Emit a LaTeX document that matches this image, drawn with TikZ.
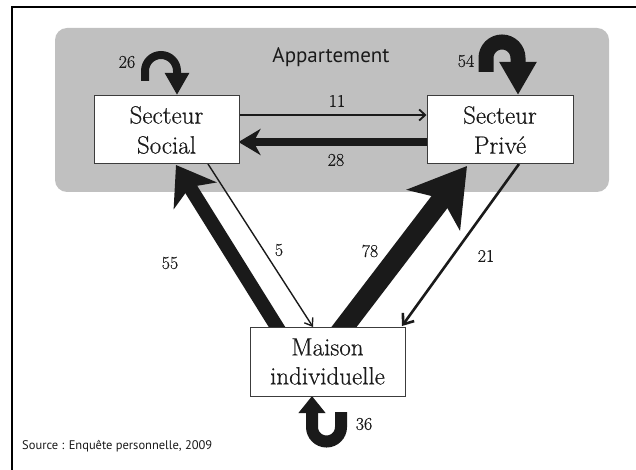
\documentclass[tikz,border=0pt]{standalone}
\usepackage{fontspec}
\newfontfamily\sansf{PT Sans}
\newfontfamily\boxf{Latin Modern Roman}[FakeBold=0.5]
\usetikzlibrary{arrows.meta,calc}
\definecolor{bggray}{RGB}{192,192,192}
\definecolor{ink}{RGB}{26,26,26}
\definecolor{boxline}{RGB}{60,60,60}
\pgfdeclarelayer{bg}
\pgfdeclarelayer{zone}
\pgfsetlayers{zone,bg,main}
\begin{document}
\begin{tikzpicture}[x=1pt,y=1pt,
  sbox/.style={draw=boxline, line width=1pt, fill=white, minimum height=68pt,
    inner sep=0pt, align=center, text=ink, font=\boxf\fontsize{25}{30}\selectfont},
  num/.style={font=\boxf\fontsize{18}{20}\selectfont, text=ink, inner sep=0pt},
  flow/.style={draw=ink, line cap=butt},
  thin11/.style={flow, line width=1.8pt, -{Straight Barb[length=6pt,width=11pt]}},
  f28/.style={flow, line width=8pt, -{Stealth[length=22pt,width=26pt,inset=7pt]}},
  f5/.style={flow, line width=1.4pt, -{Straight Barb[length=7pt,width=10pt]}},
  f21/.style={flow, line width=2.6pt, -{Straight Barb[length=9pt,width=14pt]}},
  f55/.style={flow, line width=14pt, -{Stealth[length=36pt,width=50pt,inset=10pt]}},
  f78/.style={flow, line width=20pt, -{Stealth[length=55pt,width=66pt,inset=14pt]}},
  l26/.style={flow, line width=8pt, -{Triangle[length=22pt,width=23pt]}},
  l54/.style={flow, line width=15pt, -{Triangle[length=33pt,width=35pt]}},
  l36/.style={flow, line width=12pt, -{Triangle[length=17pt,width=26pt]}},
]
\useasboundingbox (0,0) rectangle (636,-470);
% frame
\draw[line width=1.2pt, black] (12,-470) -- (12,-7) -- (636,-7);
% apartment zone
\begin{pgfonlayer}{zone}
  \fill[bggray, rounded corners=12pt] (55,-28) rectangle (609,-192);
\end{pgfonlayer}
\node[anchor=base, font=\sansf\fontsize{21}{24}\selectfont, text=ink] (appart) at (331,-63) {Appartement};

% boxes
\node[sbox, minimum width=145pt] (social) at (166.5,-130) {Secteur\\Social};
\node[sbox, minimum width=146pt] (prive) at (500,-130) {Secteur\\Privé};
\node[sbox, minimum width=155pt, minimum height=69pt, font=\boxf\fontsize{25}{29}\selectfont] (maison) at (327.5,-361.5) {Maison\\individuelle};

% connector end points
\coordinate (t55) at (277,-327);
\coordinate (h55) at (176,-165);
\coordinate (t78) at (344,-327);
\coordinate (h78) at (467,-166);
\coordinate (s5) at (208,-164);
\coordinate (e5) at (313,-327);
\coordinate (s21) at (519,-164);
\coordinate (e21) at (402,-326);

\begin{pgfonlayer}{bg}
  \draw[thin11] ($(social.east)+(0,15)$) -- ($(prive.west)+(0,15)$);
  \draw[f28] ($(prive.west)+(0,-12)$) -- ($(social.east)+(-1,-12)$);
  \draw[f55] ($(t55)!-14pt!(h55)$) -- (h55);
  \draw[f78] ($(t78)!-14pt!(h78)$) -- (h78);
  \draw[f5] (s5) -- (e5);
  \draw[f21] (s21) -- (e21);
  % self loops
  \draw[l26] (145,-81) -- (145,-71) arc[start angle=180, end angle=0, radius=16pt] -- (177,-95);
  \draw[l54] (486,-72) -- (486,-58) arc[start angle=180, end angle=0, radius=16pt] -- (518,-95);
  \draw[l36] (341,-412) -- (341,-427) arc[start angle=0, end angle=-180, radius=14.5pt] -- (312,-396);
\end{pgfonlayer}

% labels
\node[num] (n26) at (127,-62) {26};
\node[num] (n54) at (466,-61) {54};
\node[num] (n11) at (337,-101) {11};
\node[num] (n28) at (336,-160) {28};
\node[num] (n5) at (279,-250) {5};
\node[num] (n78) at (370,-251) {78};
\node[num] (n21) at (486,-256) {21};
\node[num] (n55) at (170,-263) {55};
\node[num] (n36) at (364,-424) {36};

\node[anchor=base west, font=\sansf\fontsize{12.5}{14}\selectfont, text=ink, inner sep=0pt] (src) at (22,-449) {Source : Enquête personnelle, 2009};
\end{tikzpicture}
\end{document}
